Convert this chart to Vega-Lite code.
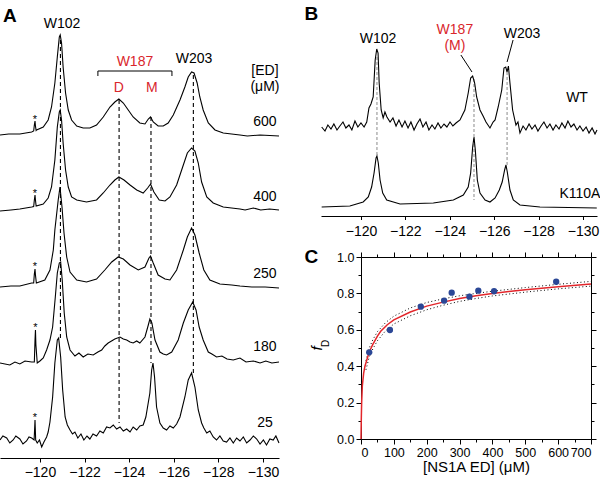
{
"$schema": "https://vega.github.io/schema/vega-lite/v6.json",
"width": 600, "height": 484, "autosize": "none", "padding": 0, "background": "white",
"config": {"view": {"stroke": null}, "text": {"font": "Liberation Sans"},
  "axis": {"grid": false, "domainColor": "black", "tickColor": "black", "labelColor": "black", "labelFont": "Liberation Sans", "titleFont": "Liberation Sans", "titleFontWeight": "normal", "titleColor": "black", "domainWidth": 1, "tickWidth": 1}},
"datasets": {
"a": [
{"s":"600","p":-118.21,"v":323},{"s":"600","p":-118.6,"v":324},{"s":"600","p":-119.1,"v":324},{"s":"600","p":-119.63,"v":326},{"s":"600","p":-119.72,"v":327},{"s":"600","p":-119.75,"v":333},{"s":"600","p":-119.78,"v":337},{"s":"600","p":-119.8,"v":332},{"s":"600","p":-119.83,"v":327.5},{"s":"600","p":-119.85,"v":328},{"s":"600","p":-120.15,"v":331},{"s":"600","p":-120.37,"v":338},{"s":"600","p":-120.52,"v":351},{"s":"600","p":-120.67,"v":375},{"s":"600","p":-120.78,"v":401},{"s":"600","p":-120.87,"v":421},{"s":"600","p":-120.91,"v":423},{"s":"600","p":-120.97,"v":415},{"s":"600","p":-121.04,"v":391},{"s":"600","p":-121.15,"v":365},{"s":"600","p":-121.27,"v":348},{"s":"600","p":-121.42,"v":338},{"s":"600","p":-121.65,"v":332},{"s":"600","p":-121.94,"v":330},{"s":"600","p":-122.24,"v":330},{"s":"600","p":-122.54,"v":333},{"s":"600","p":-122.84,"v":341},{"s":"600","p":-123.14,"v":351},{"s":"600","p":-123.36,"v":356},{"s":"600","p":-123.54,"v":359},{"s":"600","p":-123.74,"v":355},{"s":"600","p":-123.96,"v":348},{"s":"600","p":-124.18,"v":341},{"s":"600","p":-124.48,"v":335},{"s":"600","p":-124.71,"v":334},{"s":"600","p":-124.86,"v":339},{"s":"600","p":-124.96,"v":341},{"s":"600","p":-125.08,"v":336},{"s":"600","p":-125.3,"v":332},{"s":"600","p":-125.53,"v":332},{"s":"600","p":-125.75,"v":335},{"s":"600","p":-125.98,"v":343},{"s":"600","p":-126.28,"v":358},{"s":"600","p":-126.5,"v":371},{"s":"600","p":-126.65,"v":381},{"s":"600","p":-126.8,"v":386},{"s":"600","p":-126.91,"v":385},{"s":"600","p":-127.05,"v":375},{"s":"600","p":-127.17,"v":361},{"s":"600","p":-127.32,"v":348},{"s":"600","p":-127.55,"v":335},{"s":"600","p":-127.85,"v":328},{"s":"600","p":-128.22,"v":325},{"s":"600","p":-128.97,"v":323},{"s":"600","p":-129.3,"v":322},{"s":"600","p":-129.87,"v":323},{"s":"600","p":-130.3,"v":322.5},{"s":"600","p":-130.72,"v":322},
{"s":"400","p":-118.21,"v":247},{"s":"400","p":-118.7,"v":248},{"s":"400","p":-119.1,"v":249},{"s":"400","p":-119.63,"v":251},{"s":"400","p":-119.72,"v":251.5},{"s":"400","p":-119.75,"v":258},{"s":"400","p":-119.78,"v":263},{"s":"400","p":-119.8,"v":258},{"s":"400","p":-119.83,"v":252},{"s":"400","p":-120.15,"v":254},{"s":"400","p":-120.37,"v":260},{"s":"400","p":-120.52,"v":271},{"s":"400","p":-120.67,"v":298},{"s":"400","p":-120.78,"v":331},{"s":"400","p":-120.87,"v":346},{"s":"400","p":-120.91,"v":348},{"s":"400","p":-120.97,"v":338},{"s":"400","p":-121.04,"v":315},{"s":"400","p":-121.15,"v":288},{"s":"400","p":-121.27,"v":271},{"s":"400","p":-121.42,"v":261},{"s":"400","p":-121.65,"v":258},{"s":"400","p":-122.09,"v":256},{"s":"400","p":-122.54,"v":258},{"s":"400","p":-122.84,"v":265},{"s":"400","p":-123.14,"v":273},{"s":"400","p":-123.36,"v":278},{"s":"400","p":-123.54,"v":281},{"s":"400","p":-123.77,"v":278},{"s":"400","p":-124.04,"v":273},{"s":"400","p":-124.34,"v":268},{"s":"400","p":-124.63,"v":265},{"s":"400","p":-124.83,"v":270},{"s":"400","p":-124.96,"v":274},{"s":"400","p":-125.11,"v":266},{"s":"400","p":-125.35,"v":258},{"s":"400","p":-125.61,"v":257},{"s":"400","p":-125.83,"v":261},{"s":"400","p":-126.13,"v":273},{"s":"400","p":-126.4,"v":291},{"s":"400","p":-126.61,"v":305},{"s":"400","p":-126.8,"v":310},{"s":"400","p":-126.95,"v":307},{"s":"400","p":-127.1,"v":295},{"s":"400","p":-127.25,"v":276},{"s":"400","p":-127.48,"v":261},{"s":"400","p":-127.77,"v":255},{"s":"400","p":-128.22,"v":251},{"s":"400","p":-128.97,"v":249},{"s":"400","p":-129.2,"v":248},{"s":"400","p":-129.57,"v":250},{"s":"400","p":-129.9,"v":248},{"s":"400","p":-130.3,"v":249},{"s":"400","p":-130.72,"v":248},
{"s":"250","p":-118.21,"v":171},{"s":"250","p":-118.7,"v":172},{"s":"250","p":-119.1,"v":172},{"s":"250","p":-119.63,"v":175},{"s":"250","p":-119.72,"v":175},{"s":"250","p":-119.75,"v":184},{"s":"250","p":-119.78,"v":189},{"s":"250","p":-119.8,"v":183},{"s":"250","p":-119.84,"v":175},{"s":"250","p":-120.22,"v":178},{"s":"250","p":-120.45,"v":188},{"s":"250","p":-120.6,"v":208},{"s":"250","p":-120.67,"v":228},{"s":"250","p":-120.82,"v":258},{"s":"250","p":-120.9,"v":271},{"s":"250","p":-120.99,"v":251},{"s":"250","p":-121.08,"v":225},{"s":"250","p":-121.2,"v":201},{"s":"250","p":-121.35,"v":186},{"s":"250","p":-121.65,"v":178},{"s":"250","p":-122.09,"v":176},{"s":"250","p":-122.54,"v":179},{"s":"250","p":-122.91,"v":188},{"s":"250","p":-123.22,"v":196},{"s":"250","p":-123.51,"v":201},{"s":"250","p":-123.74,"v":199},{"s":"250","p":-124.04,"v":193},{"s":"250","p":-124.41,"v":188},{"s":"250","p":-124.71,"v":191},{"s":"250","p":-124.89,"v":200},{"s":"250","p":-124.96,"v":202},{"s":"250","p":-125.08,"v":195},{"s":"250","p":-125.3,"v":183},{"s":"250","p":-125.61,"v":179},{"s":"250","p":-125.83,"v":178},{"s":"250","p":-126.13,"v":188},{"s":"250","p":-126.43,"v":208},{"s":"250","p":-126.61,"v":221},{"s":"250","p":-126.8,"v":230},{"s":"250","p":-126.95,"v":223},{"s":"250","p":-127.14,"v":205},{"s":"250","p":-127.35,"v":188},{"s":"250","p":-127.62,"v":178},{"s":"250","p":-128.07,"v":174},{"s":"250","p":-128.6,"v":173},{"s":"250","p":-128.97,"v":172},{"s":"250","p":-129.5,"v":171},{"s":"250","p":-130.1,"v":171},{"s":"250","p":-130.72,"v":170},
{"s":"180","p":-118.21,"v":95},{"s":"180","p":-118.65,"v":93},{"s":"180","p":-118.88,"v":96},{"s":"180","p":-119.1,"v":94},{"s":"180","p":-119.33,"v":97},{"s":"180","p":-119.63,"v":96},{"s":"180","p":-119.75,"v":96},{"s":"180","p":-119.78,"v":118},{"s":"180","p":-119.8,"v":128},{"s":"180","p":-119.82,"v":113},{"s":"180","p":-119.88,"v":95},{"s":"180","p":-120.0,"v":97},{"s":"180","p":-120.15,"v":100},{"s":"180","p":-120.3,"v":108},{"s":"180","p":-120.45,"v":118},{"s":"180","p":-120.57,"v":131},{"s":"180","p":-120.69,"v":161},{"s":"180","p":-120.78,"v":185},{"s":"180","p":-120.87,"v":195},{"s":"180","p":-120.93,"v":196},{"s":"180","p":-121.0,"v":178},{"s":"180","p":-121.09,"v":145},{"s":"180","p":-121.2,"v":121},{"s":"180","p":-121.35,"v":108},{"s":"180","p":-121.57,"v":102},{"s":"180","p":-121.75,"v":105},{"s":"180","p":-121.94,"v":101},{"s":"180","p":-122.15,"v":104},{"s":"180","p":-122.39,"v":103},{"s":"180","p":-122.6,"v":106},{"s":"180","p":-122.77,"v":108},{"s":"180","p":-122.91,"v":112},{"s":"180","p":-123.06,"v":115},{"s":"180","p":-123.21,"v":117},{"s":"180","p":-123.36,"v":119},{"s":"180","p":-123.59,"v":121},{"s":"180","p":-123.74,"v":119},{"s":"180","p":-123.89,"v":118},{"s":"180","p":-124.04,"v":116},{"s":"180","p":-124.18,"v":115},{"s":"180","p":-124.34,"v":117},{"s":"180","p":-124.48,"v":115},{"s":"180","p":-124.71,"v":121},{"s":"180","p":-124.86,"v":133},{"s":"180","p":-124.93,"v":139},{"s":"180","p":-125.02,"v":135},{"s":"180","p":-125.16,"v":118},{"s":"180","p":-125.38,"v":106},{"s":"180","p":-125.53,"v":104},{"s":"180","p":-125.68,"v":103},{"s":"180","p":-125.91,"v":106},{"s":"180","p":-126.2,"v":118},{"s":"180","p":-126.43,"v":135},{"s":"180","p":-126.65,"v":148},{"s":"180","p":-126.85,"v":156},{"s":"180","p":-127.0,"v":148},{"s":"180","p":-127.14,"v":131},{"s":"180","p":-127.32,"v":118},{"s":"180","p":-127.55,"v":106},{"s":"180","p":-127.71,"v":104},{"s":"180","p":-127.92,"v":101},{"s":"180","p":-128.16,"v":102},{"s":"180","p":-128.39,"v":99},{"s":"180","p":-128.67,"v":98},{"s":"180","p":-128.97,"v":100},{"s":"180","p":-129.24,"v":96},{"s":"180","p":-129.57,"v":97},{"s":"180","p":-129.87,"v":95},{"s":"180","p":-130.13,"v":97},{"s":"180","p":-130.4,"v":95},{"s":"180","p":-130.72,"v":96},
{"s":"25","p":-118.21,"v":18},{"s":"25","p":-118.34,"v":22},{"s":"25","p":-118.51,"v":20},{"s":"25","p":-118.65,"v":15},{"s":"25","p":-118.8,"v":18},{"s":"25","p":-118.92,"v":22},{"s":"25","p":-119.1,"v":19},{"s":"25","p":-119.24,"v":14},{"s":"25","p":-119.4,"v":17},{"s":"25","p":-119.51,"v":21},{"s":"25","p":-119.63,"v":20},{"s":"25","p":-119.74,"v":18},{"s":"25","p":-119.78,"v":38},{"s":"25","p":-119.81,"v":18},{"s":"25","p":-119.88,"v":15},{"s":"25","p":-119.98,"v":18},{"s":"25","p":-120.08,"v":11},{"s":"25","p":-120.18,"v":16},{"s":"25","p":-120.3,"v":21},{"s":"25","p":-120.37,"v":26},{"s":"25","p":-120.45,"v":36},{"s":"25","p":-120.57,"v":61},{"s":"25","p":-120.67,"v":95},{"s":"25","p":-120.78,"v":118},{"s":"25","p":-120.84,"v":120},{"s":"25","p":-120.93,"v":101},{"s":"25","p":-121.02,"v":68},{"s":"25","p":-121.13,"v":41},{"s":"25","p":-121.23,"v":33},{"s":"25","p":-121.35,"v":28},{"s":"25","p":-121.46,"v":24},{"s":"25","p":-121.57,"v":26},{"s":"25","p":-121.7,"v":20},{"s":"25","p":-121.84,"v":24},{"s":"25","p":-121.97,"v":18},{"s":"25","p":-122.11,"v":22},{"s":"25","p":-122.24,"v":19},{"s":"25","p":-122.38,"v":24},{"s":"25","p":-122.54,"v":22},{"s":"25","p":-122.69,"v":27},{"s":"25","p":-122.84,"v":25},{"s":"25","p":-122.99,"v":31},{"s":"25","p":-123.14,"v":30},{"s":"25","p":-123.29,"v":33},{"s":"25","p":-123.44,"v":29},{"s":"25","p":-123.59,"v":31},{"s":"25","p":-123.74,"v":27},{"s":"25","p":-123.89,"v":29},{"s":"25","p":-124.04,"v":26},{"s":"25","p":-124.18,"v":31},{"s":"25","p":-124.34,"v":28},{"s":"25","p":-124.48,"v":32},{"s":"25","p":-124.63,"v":33},{"s":"25","p":-124.75,"v":41},{"s":"25","p":-124.93,"v":65},{"s":"25","p":-125.01,"v":88},{"s":"25","p":-125.07,"v":95},{"s":"25","p":-125.14,"v":81},{"s":"25","p":-125.23,"v":51},{"s":"25","p":-125.38,"v":35},{"s":"25","p":-125.53,"v":30},{"s":"25","p":-125.68,"v":28},{"s":"25","p":-125.83,"v":32},{"s":"25","p":-125.98,"v":30},{"s":"25","p":-126.13,"v":34},{"s":"25","p":-126.28,"v":41},{"s":"25","p":-126.5,"v":61},{"s":"25","p":-126.65,"v":78},{"s":"25","p":-126.8,"v":85},{"s":"25","p":-126.95,"v":71},{"s":"25","p":-127.1,"v":48},{"s":"25","p":-127.25,"v":35},{"s":"25","p":-127.35,"v":30},{"s":"25","p":-127.48,"v":25},{"s":"25","p":-127.62,"v":27},{"s":"25","p":-127.77,"v":21},{"s":"25","p":-127.92,"v":18},{"s":"25","p":-128.07,"v":22},{"s":"25","p":-128.22,"v":17},{"s":"25","p":-128.37,"v":16},{"s":"25","p":-128.52,"v":20},{"s":"25","p":-128.67,"v":15},{"s":"25","p":-128.82,"v":20},{"s":"25","p":-128.97,"v":17},{"s":"25","p":-129.12,"v":21},{"s":"25","p":-129.27,"v":15},{"s":"25","p":-129.42,"v":18},{"s":"25","p":-129.57,"v":22},{"s":"25","p":-129.72,"v":19},{"s":"25","p":-129.87,"v":14},{"s":"25","p":-130.02,"v":18},{"s":"25","p":-130.16,"v":13},{"s":"25","p":-130.31,"v":19},{"s":"25","p":-130.46,"v":18},{"s":"25","p":-130.58,"v":22},{"s":"25","p":-130.72,"v":15}
],
"adash": [{"p":-120.92,"v1":418,"v2":120},{"p":-123.55,"v1":358,"v2":35},{"p":-124.98,"v1":341,"v2":95},{"p":-126.88,"v1":383,"v2":85}],
"abr": [{"o":1,"p":-122.6,"v":382},{"o":2,"p":-122.6,"v":387},{"o":3,"p":-125.92,"v":387},{"o":4,"p":-125.92,"v":382}],
"atext": [
{"t":"W102","p":-120.99,"v":430,"k":"b"},{"t":"W187","p":-124.26,"v":392,"k":"r"},{"t":"D","p":-123.54,"v":366,"k":"r"},{"t":"M","p":-125.02,"v":366,"k":"r"},{"t":"W203","p":-126.91,"v":395,"k":"b"},
{"t":"[ED]","p":-130.09,"v":383,"k":"b"},{"t":"(μM)","p":-130.09,"v":367,"k":"b"},
{"t":"600","p":-130.09,"v":332,"k":"b"},{"t":"400","p":-130.09,"v":257,"k":"b"},{"t":"250","p":-130.09,"v":180,"k":"b"},{"t":"180","p":-130.09,"v":107,"k":"b"},{"t":"25","p":-130.09,"v":31,"k":"b"},
{"t":"*","p":-119.78,"v":335,"k":"s"},{"t":"*","p":-119.78,"v":261,"k":"s"},{"t":"*","p":-119.78,"v":188,"k":"s"},{"t":"*","p":-119.8,"v":127,"k":"s"},{"t":"*","p":-119.78,"v":37,"k":"s"}],
"b": [
{"s":"WT","p":-118.23,"v":89},{"s":"WT","p":-118.38,"v":85},{"s":"WT","p":-118.51,"v":91},{"s":"WT","p":-118.65,"v":87},{"s":"WT","p":-118.78,"v":92},{"s":"WT","p":-118.92,"v":86},{"s":"WT","p":-119.05,"v":90},{"s":"WT","p":-119.19,"v":94},{"s":"WT","p":-119.32,"v":88},{"s":"WT","p":-119.46,"v":91},{"s":"WT","p":-119.59,"v":86},{"s":"WT","p":-119.73,"v":95},{"s":"WT","p":-119.86,"v":89},{"s":"WT","p":-120.0,"v":93},{"s":"WT","p":-120.14,"v":89},{"s":"WT","p":-120.26,"v":94},{"s":"WT","p":-120.36,"v":108},{"s":"WT","p":-120.45,"v":112},{"s":"WT","p":-120.55,"v":119},{"s":"WT","p":-120.64,"v":156},{"s":"WT","p":-120.71,"v":167},{"s":"WT","p":-120.77,"v":163},{"s":"WT","p":-120.82,"v":133},{"s":"WT","p":-120.91,"v":106},{"s":"WT","p":-121.0,"v":98},{"s":"WT","p":-121.08,"v":104},{"s":"WT","p":-121.17,"v":99},{"s":"WT","p":-121.31,"v":94},{"s":"WT","p":-121.44,"v":98},{"s":"WT","p":-121.58,"v":90},{"s":"WT","p":-121.71,"v":96},{"s":"WT","p":-121.85,"v":89},{"s":"WT","p":-121.98,"v":95},{"s":"WT","p":-122.12,"v":88},{"s":"WT","p":-122.25,"v":94},{"s":"WT","p":-122.39,"v":86},{"s":"WT","p":-122.52,"v":92},{"s":"WT","p":-122.66,"v":97},{"s":"WT","p":-122.79,"v":89},{"s":"WT","p":-122.93,"v":94},{"s":"WT","p":-123.06,"v":86},{"s":"WT","p":-123.2,"v":91},{"s":"WT","p":-123.33,"v":87},{"s":"WT","p":-123.47,"v":93},{"s":"WT","p":-123.6,"v":88},{"s":"WT","p":-123.74,"v":92},{"s":"WT","p":-123.87,"v":89},{"s":"WT","p":-124.01,"v":94},{"s":"WT","p":-124.14,"v":90},{"s":"WT","p":-124.28,"v":93},{"s":"WT","p":-124.46,"v":96},{"s":"WT","p":-124.59,"v":102},{"s":"WT","p":-124.68,"v":106},{"s":"WT","p":-124.83,"v":123},{"s":"WT","p":-124.94,"v":138},{"s":"WT","p":-125.03,"v":140},{"s":"WT","p":-125.12,"v":133},{"s":"WT","p":-125.21,"v":119},{"s":"WT","p":-125.36,"v":106},{"s":"WT","p":-125.5,"v":100},{"s":"WT","p":-125.63,"v":94},{"s":"WT","p":-125.81,"v":88},{"s":"WT","p":-125.95,"v":94},{"s":"WT","p":-126.04,"v":96},{"s":"WT","p":-126.18,"v":109},{"s":"WT","p":-126.34,"v":126},{"s":"WT","p":-126.44,"v":148},{"s":"WT","p":-126.52,"v":149},{"s":"WT","p":-126.58,"v":144},{"s":"WT","p":-126.64,"v":150},{"s":"WT","p":-126.71,"v":133},{"s":"WT","p":-126.83,"v":106},{"s":"WT","p":-126.98,"v":91},{"s":"WT","p":-127.07,"v":94},{"s":"WT","p":-127.16,"v":83},{"s":"WT","p":-127.3,"v":90},{"s":"WT","p":-127.43,"v":86},{"s":"WT","p":-127.57,"v":92},{"s":"WT","p":-127.7,"v":87},{"s":"WT","p":-127.84,"v":91},{"s":"WT","p":-127.97,"v":85},{"s":"WT","p":-128.11,"v":90},{"s":"WT","p":-128.24,"v":94},{"s":"WT","p":-128.38,"v":88},{"s":"WT","p":-128.51,"v":92},{"s":"WT","p":-128.65,"v":86},{"s":"WT","p":-128.78,"v":91},{"s":"WT","p":-128.92,"v":87},{"s":"WT","p":-129.05,"v":93},{"s":"WT","p":-129.19,"v":88},{"s":"WT","p":-129.32,"v":95},{"s":"WT","p":-129.46,"v":89},{"s":"WT","p":-129.59,"v":92},{"s":"WT","p":-129.73,"v":86},{"s":"WT","p":-129.86,"v":90},{"s":"WT","p":-130.0,"v":85},{"s":"WT","p":-130.14,"v":89},{"s":"WT","p":-130.27,"v":83},{"s":"WT","p":-130.41,"v":88},{"s":"WT","p":-130.54,"v":82},{"s":"WT","p":-130.63,"v":86},
{"s":"K110A","p":-118.23,"v":9},{"s":"K110A","p":-119.5,"v":10},{"s":"K110A","p":-120.1,"v":14},{"s":"K110A","p":-120.33,"v":19},{"s":"K110A","p":-120.48,"v":29},{"s":"K110A","p":-120.59,"v":43},{"s":"K110A","p":-120.68,"v":58},{"s":"K110A","p":-120.72,"v":60},{"s":"K110A","p":-120.78,"v":53},{"s":"K110A","p":-120.86,"v":36},{"s":"K110A","p":-120.98,"v":23},{"s":"K110A","p":-121.16,"v":16},{"s":"K110A","p":-121.76,"v":12},{"s":"K110A","p":-123.26,"v":13},{"s":"K110A","p":-124.16,"v":16},{"s":"K110A","p":-124.61,"v":21},{"s":"K110A","p":-124.83,"v":29},{"s":"K110A","p":-124.94,"v":43},{"s":"K110A","p":-125.03,"v":69},{"s":"K110A","p":-125.09,"v":79},{"s":"K110A","p":-125.15,"v":66},{"s":"K110A","p":-125.24,"v":36},{"s":"K110A","p":-125.36,"v":23},{"s":"K110A","p":-125.59,"v":16},{"s":"K110A","p":-125.81,"v":14},{"s":"K110A","p":-126.04,"v":18},{"s":"K110A","p":-126.23,"v":26},{"s":"K110A","p":-126.36,"v":34},{"s":"K110A","p":-126.47,"v":46},{"s":"K110A","p":-126.53,"v":51},{"s":"K110A","p":-126.59,"v":44},{"s":"K110A","p":-126.71,"v":26},{"s":"K110A","p":-126.86,"v":16},{"s":"K110A","p":-127.16,"v":11},{"s":"K110A","p":-128.06,"v":9},{"s":"K110A","p":-130.62,"v":8}
],
"bdash": [{"p":-120.72,"v1":159,"v2":59},{"p":-125.09,"v1":137,"v2":16},{"p":-126.58,"v1":144,"v2":51}],
"blead": [{"p1":-124.5,"v1":161,"p2":-125.0,"v2":144},{"p1":-126.85,"v1":176,"p2":-126.58,"v2":154}],
"btext": [{"t":"W102","p":-120.77,"v":173,"k":"b"},{"t":"W187","p":-124.23,"v":182,"k":"r"},{"t":"(M)","p":-124.23,"v":166.5,"k":"r"},{"t":"W203","p":-127.25,"v":178,"k":"b"},{"t":"WT","p":-129.73,"v":114,"k":"b"},{"t":"K110A","p":-129.86,"v":18,"k":"b"}],
"cpts": [{"c":25,"f":0.476},{"c":88,"f":0.599},{"c":182,"f":0.727},{"c":253,"f":0.76},{"c":276,"f":0.804},{"c":330,"f":0.782},{"c":357,"f":0.815},{"c":405,"f":0.812},{"c":594,"f":0.864}],
"cfit": [{"c":0,"f":0},{"c":1,"f":0.12},{"c":2,"f":0.2},{"c":4,"f":0.29},{"c":8,"f":0.36},{"c":12,"f":0.4},{"c":17,"f":0.43},{"c":25,"f":0.478},{"c":36,"f":0.52},{"c":50,"f":0.565},{"c":60,"f":0.592},{"c":80,"f":0.628},{"c":100,"f":0.655},{"c":150,"f":0.698},{"c":200,"f":0.73},{"c":250,"f":0.752},{"c":300,"f":0.772},{"c":350,"f":0.787},{"c":400,"f":0.8},{"c":450,"f":0.81},{"c":500,"f":0.82},{"c":600,"f":0.837},{"c":700,"f":0.852}],
"cband": [
{"b":"u","c":15,"f":0.43},{"b":"u","c":25,"f":0.5},{"b":"u","c":36,"f":0.545},{"b":"u","c":50,"f":0.59},{"b":"u","c":75,"f":0.64},{"b":"u","c":100,"f":0.675},{"b":"u","c":150,"f":0.72},{"b":"u","c":200,"f":0.75},{"b":"u","c":250,"f":0.77},{"b":"u","c":300,"f":0.787},{"b":"u","c":350,"f":0.8},{"b":"u","c":400,"f":0.812},{"b":"u","c":500,"f":0.832},{"b":"u","c":600,"f":0.85},{"b":"u","c":700,"f":0.866},
{"b":"l","c":15,"f":0.38},{"b":"l","c":25,"f":0.45},{"b":"l","c":36,"f":0.495},{"b":"l","c":50,"f":0.54},{"b":"l","c":75,"f":0.595},{"b":"l","c":100,"f":0.632},{"b":"l","c":150,"f":0.677},{"b":"l","c":200,"f":0.71},{"b":"l","c":250,"f":0.735},{"b":"l","c":300,"f":0.756},{"b":"l","c":350,"f":0.772},{"b":"l","c":400,"f":0.786},{"b":"l","c":500,"f":0.807},{"b":"l","c":600,"f":0.825},{"b":"l","c":700,"f":0.84}]
},
"layer": [
{"data": {"name": "adash"}, "mark": {"type": "rule", "strokeDash": [4, 3], "strokeWidth": 1.1, "color": "black"},
 "encoding": {"x": {"field": "p", "type": "quantitative", "scale": {"domain": [-118.21, -130.72], "range": [0, 279], "nice": false, "zero": false}, "axis": null},
   "y": {"field": "v1", "type": "quantitative", "scale": {"domain": [0, 458], "range": [458, 0], "nice": false, "zero": false}, "axis": null}, "y2": {"field": "v2"}}},
{"data": {"name": "a"}, "mark": {"type": "line", "stroke": "black", "strokeWidth": 1.1},
 "encoding": {"x": {"field": "p", "type": "quantitative", "scale": {"domain": [-118.21, -130.72], "range": [0, 279], "nice": false, "zero": false},
     "axis": {"orient": "bottom", "offset": -26, "values": [-120, -122, -124, -126, -128, -130], "tickSize": 4, "labelFontSize": 14, "labelPadding": 3.5, "title": null}},
   "y": {"field": "v", "type": "quantitative", "scale": {"domain": [0, 458], "range": [458, 0], "nice": false, "zero": false}, "axis": null},
   "detail": {"field": "s"}}},
{"data": {"name": "abr"}, "mark": {"type": "line", "stroke": "black", "strokeWidth": 1},
 "encoding": {"x": {"field": "p", "type": "quantitative", "scale": {"domain": [-118.21, -130.72], "range": [0, 279], "nice": false, "zero": false}, "axis": null},
   "y": {"field": "v", "type": "quantitative", "scale": {"domain": [0, 458], "range": [458, 0], "nice": false, "zero": false}, "axis": null},
   "order": {"field": "o"}}},
{"data": {"name": "atext"}, "mark": {"type": "text", "align": "center", "baseline": "alphabetic", "font": "Liberation Sans"},
 "encoding": {"x": {"field": "p", "type": "quantitative", "scale": {"domain": [-118.21, -130.72], "range": [0, 279], "nice": false, "zero": false}, "axis": null},
   "y": {"field": "v", "type": "quantitative", "scale": {"domain": [0, 458], "range": [458, 0], "nice": false, "zero": false}, "axis": null},
   "text": {"field": "t"},
   "color": {"condition": {"test": "datum.k === 'r'", "value": "#d9262c"}, "value": "black"},
   "size": {"condition": {"test": "datum.k === 's'", "value": 11}, "value": 14}}},
{"data": {"values": [{"t": "A", "p": -118.65, "v": 436}]}, "mark": {"type": "text", "align": "center", "baseline": "alphabetic", "fontWeight": "bold", "fontSize": 19, "font": "Liberation Sans"},
 "encoding": {"x": {"field": "p", "type": "quantitative", "scale": {"domain": [-118.21, -130.72], "range": [0, 279], "nice": false, "zero": false}, "axis": null},
   "y": {"field": "v", "type": "quantitative", "scale": {"domain": [0, 458], "range": [458, 0], "nice": false, "zero": false}, "axis": null},
   "text": {"field": "t"}}},
{"data": {"name": "bdash"}, "mark": {"type": "rule", "strokeDash": [3, 2], "strokeWidth": 1, "color": "#8a8a8a"},
 "encoding": {"x": {"field": "p", "type": "quantitative", "scale": {"domain": [-118.2, -130.63], "range": [321, 597], "nice": false, "zero": false}, "axis": null},
   "y": {"field": "v1", "type": "quantitative", "scale": {"domain": [0, 216], "range": [216, 0], "nice": false, "zero": false}, "axis": null}, "y2": {"field": "v2"}}},
{"data": {"name": "b"}, "mark": {"type": "line", "stroke": "black", "strokeWidth": 1.1},
 "encoding": {"x": {"field": "p", "type": "quantitative", "scale": {"domain": [-118.2, -130.63], "range": [321, 597], "nice": false, "zero": false},
     "axis": {"orient": "bottom", "offset": -268, "values": [-120, -122, -124, -126, -128, -130], "tickSize": 3.5, "labelFontSize": 14, "labelPadding": 4.5, "title": null}},
   "y": {"field": "v", "type": "quantitative", "scale": {"domain": [0, 216], "range": [216, 0], "nice": false, "zero": false}, "axis": null},
   "detail": {"field": "s"}}},
{"data": {"name": "blead"}, "mark": {"type": "rule", "strokeWidth": 1, "color": "black"},
 "encoding": {"x": {"field": "p1", "type": "quantitative", "scale": {"domain": [-118.2, -130.63], "range": [321, 597], "nice": false, "zero": false}, "axis": null},
   "x2": {"field": "p2"},
   "y": {"field": "v1", "type": "quantitative", "scale": {"domain": [0, 216], "range": [216, 0], "nice": false, "zero": false}, "axis": null}, "y2": {"field": "v2"}}},
{"data": {"name": "btext"}, "mark": {"type": "text", "align": "center", "baseline": "alphabetic", "font": "Liberation Sans"},
 "encoding": {"x": {"field": "p", "type": "quantitative", "scale": {"domain": [-118.2, -130.63], "range": [321, 597], "nice": false, "zero": false}, "axis": null},
   "y": {"field": "v", "type": "quantitative", "scale": {"domain": [0, 216], "range": [216, 0], "nice": false, "zero": false}, "axis": null},
   "text": {"field": "t"},
   "color": {"condition": {"test": "datum.k === 'r'", "value": "#d9262c"}, "value": "black"},
   "size": {"value": 14}}},
{"data": {"values": [{"t": "B", "p": -117.77, "v": 196}]}, "mark": {"type": "text", "align": "center", "baseline": "alphabetic", "fontWeight": "bold", "fontSize": 19, "font": "Liberation Sans"},
 "encoding": {"x": {"field": "p", "type": "quantitative", "scale": {"domain": [-118.2, -130.63], "range": [321, 597], "nice": false, "zero": false}, "axis": null},
   "y": {"field": "v", "type": "quantitative", "scale": {"domain": [0, 216], "range": [216, 0], "nice": false, "zero": false}, "axis": null},
   "text": {"field": "t"}}},
{"data": {"name": "cband"}, "mark": {"type": "line", "stroke": "black", "strokeWidth": 1, "strokeDash": [1, 2.5]},
 "encoding": {"x": {"field": "c", "type": "quantitative", "scale": {"domain": [0, 700], "range": [361, 591], "nice": false, "zero": false}, "axis": null},
   "y": {"field": "f", "type": "quantitative", "scale": {"domain": [0, 1], "range": [439, 257], "nice": false, "zero": false}, "axis": null},
   "detail": {"field": "b"}}},
{"data": {"name": "cfit"}, "mark": {"type": "line", "stroke": "#e3262b", "strokeWidth": 1.5},
 "encoding": {"x": {"field": "c", "type": "quantitative", "scale": {"domain": [0, 700], "range": [361, 591], "nice": false, "zero": false},
     "axis": {"orient": "top", "offset": -257, "values": [0, 50, 100, 150, 200, 250, 300, 350, 400, 450, 500, 550, 600, 650, 700], "labels": false, "title": null,
       "tickSize": {"condition": {"test": "datum.value % 100 === 0", "value": 5}, "value": 3}}},
   "y": {"field": "f", "type": "quantitative", "scale": {"domain": [0, 1], "range": [439, 257], "nice": false, "zero": false},
     "axis": {"orient": "right", "offset": -9, "values": [0, 0.1, 0.2, 0.3, 0.4, 0.5, 0.6, 0.7, 0.8, 0.9, 1], "labels": false, "title": null,
       "tickSize": {"condition": {"test": "round(datum.value * 10) % 2 === 0", "value": 5}, "value": 3}}}}},
{"data": {"name": "cpts"}, "mark": {"type": "point", "filled": true, "color": "#2b4796", "size": 40, "opacity": 1},
 "encoding": {"x": {"field": "c", "type": "quantitative", "scale": {"domain": [0, 700], "range": [361, 591], "nice": false, "zero": false},
     "axis": {"orient": "bottom", "offset": -45, "values": [0, 50, 100, 150, 200, 250, 300, 350, 400, 450, 500, 550, 600, 650, 700],
       "labelExpr": "datum.value % 100 === 0 ? datum.label : ''", "labelFontSize": 12.5, "labelPadding": 2,
       "tickSize": {"condition": {"test": "datum.value % 100 === 0", "value": 5}, "value": 3},
       "title": "[NS1A ED] (μM)", "titleFontSize": 15, "titlePadding": 1}},
   "y": {"field": "f", "type": "quantitative", "scale": {"domain": [0, 1], "range": [439, 257], "nice": false, "zero": false},
     "axis": {"orient": "left", "offset": -361, "values": [0, 0.1, 0.2, 0.3, 0.4, 0.5, 0.6, 0.7, 0.8, 0.9, 1],
       "labelExpr": "round(datum.value * 10) % 2 === 0 ? format(datum.value, '.1f') : ''", "labelFontSize": 12.5, "labelPadding": 2,
       "tickSize": {"condition": {"test": "round(datum.value * 10) % 2 === 0", "value": 5}, "value": 3},
       "title": "f", "titleFontStyle": "italic", "titleFontSize": 15, "titlePadding": 12}}}},
{"data": {"values": [{"t": "D", "c": -97.4, "f": 0.525}]}, "mark": {"type": "text", "align": "center", "baseline": "alphabetic", "angle": 270, "fontSize": 10, "font": "Liberation Sans"},
 "encoding": {"x": {"field": "c", "type": "quantitative", "scale": {"domain": [0, 700], "range": [361, 591], "nice": false, "zero": false}, "axis": null},
   "y": {"field": "f", "type": "quantitative", "scale": {"domain": [0, 1], "range": [439, 257], "nice": false, "zero": false}, "axis": null},
   "text": {"field": "t"}}},
{"data": {"values": [{"t": "C", "c": -150.7, "f": 0.967}]}, "mark": {"type": "text", "align": "center", "baseline": "alphabetic", "fontWeight": "bold", "fontSize": 19, "font": "Liberation Sans"},
 "encoding": {"x": {"field": "c", "type": "quantitative", "scale": {"domain": [0, 700], "range": [361, 591], "nice": false, "zero": false}, "axis": null},
   "y": {"field": "f", "type": "quantitative", "scale": {"domain": [0, 1], "range": [439, 257], "nice": false, "zero": false}, "axis": null},
   "text": {"field": "t"}}}
],
"resolve": {"scale": {"x": "independent", "y": "independent"}, "axis": {"x": "independent", "y": "independent"}}
}
